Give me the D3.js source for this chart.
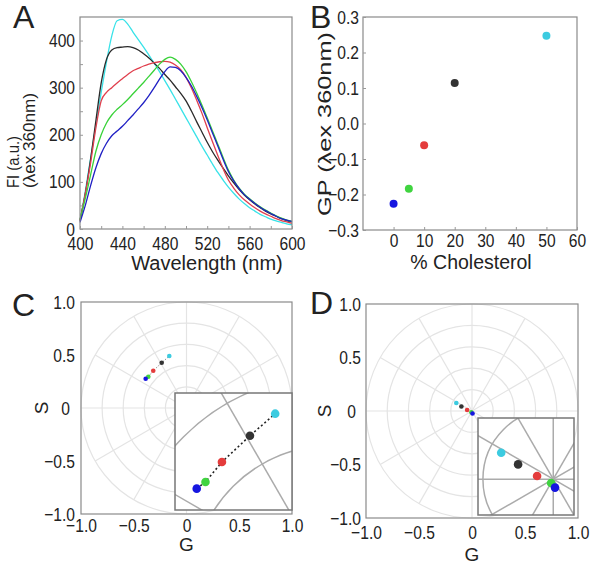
<!DOCTYPE html>
<html>
<head>
<meta charset="utf-8">
<script src="https://cdn.jsdelivr.net/npm/d3@7"></script>
<style>
body { margin: 0; background: #fff; }
svg text { font-family: 'Liberation Sans', Arial, sans-serif; fill: #222; }
</style>
</head>
<body>
<svg id="fig" width="601" height="564"></svg>
<script>
// emission spectra (panel A), every 5 nm
var wavelengths = [400, 405, 410, 415, 420, 425, 430, 435, 440, 445, 450, 455, 460, 465, 470, 475, 480, 485, 490, 495,
  500, 505, 510, 515, 520, 525, 530, 535, 540, 545, 550, 555, 560, 565, 570, 575, 580, 585, 590, 595, 600];
var fiChol0 = [14, 50, 92, 130, 160, 182, 198, 208, 218, 230, 242, 255, 268, 283, 300, 318, 334, 344, 343, 336,
  322, 304, 282, 258, 232, 204, 176, 148, 122, 102, 86, 73, 63, 54, 46, 39, 33, 27, 22, 19, 16];
var fiChol5 = [20, 65, 115, 165, 200, 225, 242, 254, 264, 275, 287, 299, 311, 324, 337, 350, 360, 365, 360, 350,
  334, 313, 289, 263, 236, 208, 180, 152, 125, 104, 87, 74, 64, 55, 47, 40, 34, 28, 23, 19, 16];
var fiChol10 = [18, 75, 140, 215, 272, 290, 300, 310, 319, 328, 336, 341, 346, 350, 353, 355, 356, 354, 348, 338,
  322, 300, 274, 246, 215, 185, 156, 128, 104, 87, 73, 62, 53, 45, 38, 32, 27, 22, 18, 15, 12];
var fiChol20 = [18, 75, 148, 230, 310, 360, 380, 385, 386, 387, 385, 380, 372, 363, 352, 341, 328, 316, 302, 288,
  272, 251, 228, 206, 184, 164, 146, 129, 113, 98, 84, 72, 62, 53, 45, 38, 32, 27, 22, 18, 15];
var fiChol50 = [18, 80, 150, 220, 290, 355, 410, 442, 445, 435, 418, 402, 386, 369, 352, 334, 315, 296, 276, 256,
  236, 216, 196, 176, 157, 138, 120, 104, 89, 76, 64, 54, 45, 38, 31, 26, 21, 17, 14, 11, 9];

// generalized polarization (panel B)
var cholesterol = [0, 5, 10, 20, 50];
var gpValues = [-0.226, -0.184, -0.061, 0.114, 0.247];
var sampleColors = ['#1616e0', '#40d440', '#e43c3c', '#333333', '#3ccbe0'];
var curveColors = ['#2020c4', '#38d238', '#e0404e', '#2a2a2a', '#38e2e8'];

// phasor coordinates (panels C and D)
var phasorG_C = [-0.387, -0.362, -0.315, -0.235, -0.163];
var phasorS_C = [0.276, 0.295, 0.352, 0.427, 0.490];
var phasorG_D = [0.005, -0.006, -0.046, -0.100, -0.148];
var phasorS_D = [-0.024, -0.011, 0.009, 0.042, 0.075];

// polar grid
var gridRadii = [0.2, 0.4, 0.6, 0.8, 1.0];
var gridAngles = [0, 30, 60, 90, 120, 150, 180, 210, 240, 270, 300, 330];

var svg = d3.select('#fig');

// narrow the tick font a little, like the original
function squeeze(sel, k) {
  sel.each(function() {
    var w = this.getComputedTextLength();
    if (w > 0) {
      d3.select(this).attr('textLength', w * k).attr('lengthAdjust', 'spacingAndGlyphs');
    }
  });
}

function styleAxis(a) {
  a.select('.domain').remove();
  a.selectAll('.tick line').attr('stroke', '#999');
  a.selectAll('.tick text').style('font-size', '19px').attr('fill', '#222').call(squeeze, 0.82);
}

function frame(g, x0, y0, x1, y1, color, w) {
  g.append('rect')
    .attr('x', x0).attr('y', y0)
    .attr('width', x1 - x0).attr('height', y1 - y0)
    .attr('fill', 'none')
    .attr('stroke', color)
    .attr('stroke-width', w);
}

function panelLetter(t, x, y) {
  svg.append('text')
    .attr('x', x).attr('y', y)
    .style('font-size', '32px')
    .attr('fill', '#333')
    .text(t);
}

// panel A
function drawSpectra() {
  var x = d3.scaleLinear().domain([400, 600]).range([80, 292]);
  var y = d3.scaleLinear().domain([0, 450]).range([229, 17]);
  var g = svg.append('g');
  var series = [fiChol50, fiChol20, fiChol10, fiChol5, fiChol0];
  var colors = [curveColors[4], curveColors[3], curveColors[2], curveColors[1], curveColors[0]];

  var line = d3.line()
    .x(function(d, i) { return x(wavelengths[i]); })
    .y(function(d) { return y(d); })
    .curve(d3.curveMonotoneX);

  series.forEach(function(s, i) {
    g.append('path')
      .datum(s)
      .attr('d', line)
      .attr('fill', 'none')
      .attr('stroke', colors[i])
      .attr('stroke-width', 1.3);
  });

  frame(g, 80, 17, 292, 229, '#8a8a8a', 1.2);

  g.append('g').attr('transform', 'translate(0,229)')
    .call(d3.axisBottom(x).tickValues([400, 420, 440, 460, 480, 500, 520, 540, 560, 580, 600])
      .tickSize(-3).tickPadding(8)
      .tickFormat(function(d) { return d % 40 === 0 ? d : ''; }))
    .call(styleAxis);
  g.append('g').attr('transform', 'translate(80,0)')
    .call(d3.axisLeft(y).tickValues([0, 50, 100, 150, 200, 250, 300, 350, 400])
      .tickSize(-3).tickPadding(5)
      .tickFormat(function(d) { return d % 100 === 0 ? d : ''; }))
    .call(styleAxis);

  g.append('text')
    .attr('x', 207).attr('y', 270)
    .attr('text-anchor', 'middle')
    .style('font-size', '20px')
    .text('Wavelength (nm)');
  g.append('text')
    .attr('transform', 'translate(19,188) rotate(-90)')
    .style('font-size', '17px')
    .attr('textLength', 52)
    .attr('lengthAdjust', 'spacingAndGlyphs')
    .text('FI (a.u.)');
  g.append('text')
    .attr('transform', 'translate(35,188) rotate(-90)')
    .style('font-size', '17px')
    .attr('textLength', 95)
    .attr('lengthAdjust', 'spacingAndGlyphs')
    .text('(\u03bbex 360nm)');
}

// panel B
function drawGP() {
  var x = d3.scaleLinear().domain([-10, 60]).range([363, 577]);
  var y = d3.scaleLinear().domain([-0.3, 0.3]).range([230, 17]);
  var g = svg.append('g');

  frame(g, 363, 17, 577, 230, '#8a8a8a', 1.2);

  g.append('g').attr('transform', 'translate(0,230)')
    .call(d3.axisBottom(x).tickValues([0, 10, 20, 30, 40, 50, 60]).tickSize(-3).tickPadding(3))
    .call(styleAxis);
  g.append('g').attr('transform', 'translate(363,0)')
    .call(d3.axisLeft(y).tickValues([-0.3, -0.2, -0.1, 0, 0.1, 0.2, 0.3])
      .tickSize(-3).tickPadding(4).tickFormat(d3.format('.1f')))
    .call(styleAxis);

  g.selectAll('circle.gp')
    .data(cholesterol)
    .enter()
    .append('circle')
    .attr('cx', function(d) { return x(d); })
    .attr('cy', function(d, i) { return y(gpValues[i]); })
    .attr('r', 4)
    .attr('fill', function(d, i) { return sampleColors[i]; });

  g.append('text')
    .attr('x', 471).attr('y', 269)
    .attr('text-anchor', 'middle')
    .style('font-size', '19.5px')
    .text('% Cholesterol');
  g.append('text')
    .attr('transform', 'translate(331,124) rotate(-90)')
    .attr('text-anchor', 'middle')
    .style('font-size', '19px')
    .attr('textLength', 184)
    .attr('lengthAdjust', 'spacingAndGlyphs')
    .text('GP (\u03bbex 360nm)');
}

function drawGrid(g, x, y, color, w) {
  gridRadii.forEach(function(r) {
    g.append('ellipse')
      .attr('cx', x(0)).attr('cy', y(0))
      .attr('rx', x(r) - x(0)).attr('ry', y(0) - y(r))
      .attr('fill', 'none')
      .attr('stroke', color)
      .attr('stroke-width', w);
  });
  gridAngles.forEach(function(a) {
    var t = a * Math.PI / 180;
    g.append('line')
      .attr('x1', x(0)).attr('y1', y(0))
      .attr('x2', x(Math.cos(t))).attr('y2', y(Math.sin(t)))
      .attr('stroke', color)
      .attr('stroke-width', w);
  });
}

function drawPoints(g, x, y, gv, sv, r) {
  // draw high cholesterol first so 0% sits on top
  for (var i = gv.length - 1; i >= 0; i--) {
    g.append('circle')
      .attr('cx', x(gv[i]))
      .attr('cy', y(sv[i]))
      .attr('r', r)
      .attr('fill', sampleColors[i]);
  }
}

function dotted(g, x, y, gv, sv, color, w, dash) {
  var line = d3.line()
    .x(function(d, i) { return x(gv[i]); })
    .y(function(d, i) { return y(sv[i]); });
  g.append('path')
    .datum(gv)
    .attr('d', line)
    .attr('fill', 'none')
    .attr('stroke', color)
    .attr('stroke-width', w)
    .attr('stroke-dasharray', dash);
}

function phasorFormat(d) { return d === 0 ? '0' : d3.format('.1f')(d); }

// panels C and D
function drawPhasor(id, box, gv, sv, inset, labels) {
  var x = d3.scaleLinear().domain([-1, 1]).range([box.x0, box.x1]);
  var y = d3.scaleLinear().domain([-1, 1]).range([box.y1, box.y0]);
  var g = svg.append('g');

  drawGrid(g, x, y, '#e4e4e4', 1.2);
  if (inset.line) dotted(g, x, y, gv, sv, '#777', 0.8, '1.5,1.5');
  drawPoints(g, x, y, gv, sv, 2.3);
  frame(g, box.x0, box.y0, box.x1, box.y1, '#8a8a8a', 1.2);

  g.append('g').attr('transform', 'translate(0,' + box.y1 + ')')
    .call(d3.axisBottom(x).tickValues([-1, -0.5, 0, 0.5, 1]).tickSize(0).tickPadding(labels.xPad)
      .tickFormat(phasorFormat))
    .call(styleAxis);
  var ya = g.append('g').attr('transform', 'translate(' + box.x0 + ',0)')
    .call(d3.axisLeft(y).tickValues([-1, -0.5, 0, 0.5, 1]).tickSize(0).tickPadding(labels.yPad)
      .tickFormat(phasorFormat))
    .call(styleAxis);
  // the zero label sits a bit left of the others in the original
  ya.selectAll('.tick text').filter(function(d) { return d === 0; }).attr('dx', -5);

  g.append('text')
    .attr('x', x(0)).attr('y', labels.gY)
    .attr('text-anchor', 'middle')
    .style('font-size', '19px')
    .text('G');
  g.append('text')
    .attr('transform', 'translate(' + labels.sX + ',' + y(0) + ') rotate(-90)')
    .attr('text-anchor', 'middle')
    .style('font-size', '19px')
    .text('S');

  // zoomed inset
  var ix = d3.scaleLinear().domain(inset.gDom).range([inset.x0, inset.x1]);
  var iy = d3.scaleLinear().domain(inset.sDom).range([inset.y1, inset.y0]);
  svg.append('clipPath').attr('id', id)
    .append('rect')
    .attr('x', inset.x0).attr('y', inset.y0)
    .attr('width', inset.x1 - inset.x0).attr('height', inset.y1 - inset.y0);
  var ig = g.append('g').attr('clip-path', 'url(#' + id + ')');
  ig.append('rect')
    .attr('x', inset.x0).attr('y', inset.y0)
    .attr('width', inset.x1 - inset.x0).attr('height', inset.y1 - inset.y0)
    .attr('fill', '#fff');
  drawGrid(ig, ix, iy, '#ababab', 1.5);
  if (inset.line) dotted(ig, ix, iy, gv, sv, '#222', 1.6, '2,2.5');
  drawPoints(ig, ix, iy, gv, sv, 4.3);
  frame(g, inset.x0, inset.y0, inset.x1, inset.y1, '#777', 1.5);
}

drawSpectra();
drawGP();
drawPhasor('clipC', {x0: 81, y0: 302, x1: 292, y1: 514}, phasorG_C, phasorS_C,
  {x0: 175, y0: 393, x1: 292, y1: 510, gDom: [-0.449, -0.115], sDom: [0.215, 0.549], line: true},
  {xPad: 5, yPad: 6, gY: 551, sX: 48});
drawPhasor('clipD', {x0: 366, y0: 304, x1: 578, y1: 518}, phasorG_D, phasorS_D,
  {x0: 478, y0: 418, x1: 574, y1: 515, gDom: [-0.214, 0.059], sDom: [-0.102, 0.174], line: false},
  {xPad: 8, yPad: 5, gY: 561, sX: 331});

panelLetter('A', 13, 28);
panelLetter('B', 310, 28);
panelLetter('C', 12, 316);
panelLetter('D', 310, 314);
</script>
</body>
</html>
